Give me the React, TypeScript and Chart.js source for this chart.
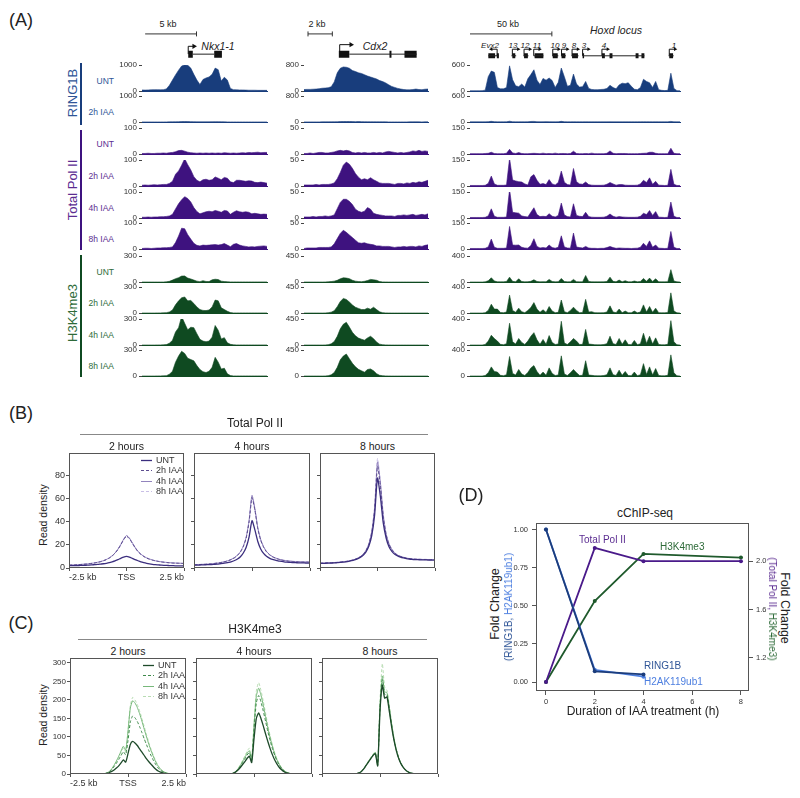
import React, { useEffect, useRef } from "react";
import { Chart, registerables } from "chart.js";

Chart.register(...registerables);
const FONT = "'Liberation Sans', Arial, Helvetica, sans-serif";
Chart.defaults.font.family = FONT;
Chart.defaults.color = "#333";

// ---------- colours ----------
const C_RING = "#183d7c";
const C_RING_TXT = "#2f5597";
const C_POL = "#3e127f";
const C_POL_TXT = "#5b2c91";
const C_K4 = "#0f4a21";
const C_K4_TXT = "#2e6b39";
const C_H2A = "#4d7fe0";

// ---------- Panel A: Nkx1-1 locus tracks ----------
const NKX_R_UNT = [40,35,40,45,50,50,45,50,80,220,420,620,800,960,1000,990,880,640,420,250,440,500,540,640,880,820,380,530,420,100,50,45,40,40,35,30,30,30,25,25,25,25];
const NKX_R_2H = [3,3,3,3,3,3,3,3,4,5,6,8,12,15,16,15,14,10,6,5,5,5,6,10,12,12,8,5,4,3,3,3,3,3,3,3,3,3,3,3,3,3];
const NKX_P_UNT = [2,2,3,2,2,3,3,4,3,5,6,9,13,14,11,7,5,4,3,4,3,4,3,4,3,4,3,5,4,3,4,3,4,5,4,6,5,6,7,5,6,6];
const NKX_P_2H = [3,4,3,4,5,4,5,6,6,10,18,45,58,80,105,82,62,36,22,16,24,26,22,24,35,30,24,33,30,16,13,22,22,20,18,20,19,14,13,15,13,11];
const NKX_P_4H = [3,3,4,3,4,4,5,5,6,8,14,35,55,70,82,75,62,40,25,16,20,24,26,24,29,26,22,29,27,14,22,28,24,22,24,22,16,18,16,14,15,14];
const NKX_P_8H = [2,3,3,2,3,4,4,5,5,6,8,25,50,80,78,55,38,22,14,12,15,14,15,16,17,15,17,21,15,9,18,21,15,12,10,8,9,8,10,11,12,10];
const NKX_K_UNT = [0,0,0,0,0,0,0,0,2,8,22,38,50,68,70,45,35,22,10,4,15,6,5,25,32,28,10,5,3,1,1,1,1,1,1,1,1,1,1,1,1,1];
const NKX_K_2H = [0,0,0,0,0,1,1,2,4,12,35,95,140,175,185,140,145,110,70,40,30,28,35,70,150,140,60,40,20,5,1,1,1,1,1,1,1,1,1,1,1,1];
const NKX_K_4H = [0,0,0,0,0,1,1,2,5,20,55,150,200,330,250,175,205,200,130,65,45,38,45,90,225,170,70,85,25,8,2,1,1,1,1,1,1,1,1,1,1,1];
const NKX_K_8H = [0,0,0,0,0,1,1,2,4,20,55,160,230,285,260,205,190,175,120,75,50,40,55,100,215,160,80,90,25,5,1,1,1,1,1,1,1,1,1,1,1,1];

// ---------- Panel A: Cdx2 locus tracks ----------
const CDX_R_UNT = [45,50,50,55,60,70,85,90,100,130,280,560,700,740,730,700,630,600,560,540,500,460,430,400,370,320,290,250,190,140,110,80,60,45,35,35,45,60,45,40,55,60];
const CDX_R_2H = [3,3,3,3,3,3,4,4,4,5,6,8,12,15,14,16,12,10,14,11,8,6,5,5,4,4,4,4,3,3,3,3,3,3,3,4,4,5,4,3,4,4];
const CDX_P_UNT = [1,1,2,1,2,3,3,2,2,3,4,6,7,6,7,6,3,2,3,2,3,2,2,3,2,3,2,4,5,4,3,2,3,2,3,4,6,5,7,5,6,5];
const CDX_P_2H = [2,2,2,2,3,2,3,3,3,4,6,14,26,40,46,42,34,24,17,12,14,12,16,12,9,6,5,5,5,4,3,5,5,4,6,5,7,6,8,7,9,11];
const CDX_P_4H = [2,2,2,3,2,3,3,4,3,4,6,18,30,36,36,32,26,17,13,11,13,20,17,9,7,6,5,4,4,4,3,5,5,6,5,6,7,5,6,7,6,8];
const CDX_P_8H = [1,2,2,2,2,3,3,3,3,4,10,20,30,36,32,27,22,17,12,11,12,10,9,8,6,6,5,5,5,4,3,4,4,5,4,5,5,4,6,5,7,8];
const CDX_K_UNT = [0,0,0,0,0,0,0,1,3,8,15,30,55,73,68,58,30,15,8,6,12,25,45,38,30,8,2,1,0,0,0,0,0,0,0,0,0,0,0,0,0,0];
const CDX_K_2H = [0,0,0,0,0,0,0,1,5,15,40,110,200,252,235,190,140,100,80,60,60,84,65,100,60,20,6,2,1,0,0,0,0,0,0,0,0,0,0,0,0,0];
const CDX_K_4H = [0,0,0,0,0,0,0,1,6,20,60,150,280,360,392,310,220,160,120,100,84,123,151,110,50,15,5,2,1,0,0,0,0,0,0,0,0,0,0,0,0,0];
const CDX_K_8H = [0,0,0,0,0,0,0,1,6,20,60,150,280,345,380,300,220,160,115,90,67,112,123,90,40,12,5,2,1,0,0,0,0,0,0,0,0,0,0,0,0,0];

// ---------- Panel A: Hoxd locus tracks ----------
const HOX_R_UNT = [5,5,5,5,8,20,330,460,430,80,50,50,80,580,260,120,100,160,90,280,380,490,250,150,290,250,300,240,80,200,530,330,110,130,390,160,90,100,220,60,35,30,30,35,40,60,130,80,50,140,180,170,190,110,40,30,80,270,220,190,80,220,30,15,10,15,410,60,8,5];
const HOX_R_2H = [3,3,3,3,3,3,8,15,8,3,3,3,4,18,6,3,3,4,3,5,12,14,6,4,5,8,5,4,3,5,15,6,3,3,5,3,3,3,4,3,3,3,3,3,3,3,4,3,3,3,3,3,3,3,3,3,4,5,4,4,3,4,3,3,3,3,14,4,3,3];
const HOX_P_UNT = [2,2,2,2,2,3,4,10,3,2,2,2,4,27,6,3,8,3,2,2,3,4,3,2,5,2,3,2,5,2,3,3,2,3,16,3,2,2,3,2,5,2,2,2,2,4,18,4,2,3,3,3,2,2,2,2,3,4,5,10,10,4,2,2,2,2,33,4,2,2];
const HOX_P_2H = [3,3,3,3,3,4,15,57,12,4,4,4,6,160,35,29,25,23,12,6,53,66,33,10,14,8,37,12,6,20,86,22,8,6,101,25,12,10,23,8,5,4,4,4,5,10,20,12,5,8,8,5,4,4,4,5,12,33,20,47,10,27,5,4,3,4,96,10,3,3];
const HOX_P_4H = [3,3,3,3,3,4,12,53,10,4,4,4,6,165,33,30,28,12,8,6,33,59,20,8,10,8,25,10,6,15,86,18,8,6,82,15,10,8,33,8,5,4,4,4,5,10,23,10,5,8,6,5,4,4,4,5,10,27,20,43,15,37,5,4,3,4,92,10,3,3];
const HOX_P_8H = [3,3,3,3,3,4,12,57,10,4,4,4,6,130,23,22,23,10,6,5,20,59,15,6,8,6,23,8,5,10,76,12,6,5,92,12,8,6,15,6,4,4,3,4,4,8,15,8,4,6,5,4,4,3,4,5,10,33,15,47,10,23,5,4,3,4,101,10,3,3];
const HOX_K_UNT = [0,0,0,0,0,2,20,65,15,3,2,2,8,75,10,3,50,8,2,5,10,35,8,2,5,3,40,8,2,5,55,8,2,3,40,5,2,3,100,8,3,2,2,2,3,8,75,10,3,30,3,20,3,2,15,3,8,55,10,60,8,50,3,2,2,5,190,15,2,0];
const HOX_K_2H = [0,0,0,0,0,5,40,135,60,60,8,5,15,275,40,10,75,20,5,40,85,160,60,10,50,8,100,30,5,10,200,20,5,40,90,40,5,8,210,15,20,5,3,3,5,15,110,15,5,60,5,30,5,3,30,3,15,125,15,100,10,75,5,3,3,8,310,30,3,0];
const HOX_K_4H = [0,0,0,0,0,8,60,150,100,60,10,5,20,335,50,15,100,40,8,60,135,190,80,10,85,10,145,40,8,15,365,30,8,50,100,60,8,10,240,15,10,5,3,3,8,20,135,20,8,100,10,80,8,5,70,5,20,180,25,135,15,110,8,3,3,10,375,50,3,0];
const HOX_K_8H = [0,0,0,0,0,8,50,140,70,60,10,5,20,300,40,15,100,30,8,55,125,160,70,10,60,10,125,40,8,15,310,30,8,50,100,50,8,10,235,15,10,5,3,3,8,20,125,20,8,90,10,70,8,5,60,5,20,190,25,140,15,115,8,3,3,10,325,50,3,0];

// track y-axis maxima (Nkx1-1, Cdx2, Hoxd)
const MAX_RING = [1000, 800, 600];
const MAX_POL = [100, 50, 150];
const MAX_K4 = [300, 450, 400];

// gene models (positions in track bins)
const NKX_BAR = [-0.3, 17.7];
const NKX_EXONS = [[14.8, 16.4], [23.9, 26.6]];
const NKX_INTRONS = [[16.4, 23.9]];
const NKX_TSS = [[14.8, 16.8]];
const CDX_BAR = [0, 8.6];
const CDX_EXONS = [[10.9, 14.6], [28.8, 29.5], [34.1, 38.4]];
const CDX_INTRONS = [[14.6, 38.4]];
const CDX_TSS = [[11.2, 15.2]];
const HOX_BAR = [-1.6, 26.6];
const HOX_EXONS = [[4.9, 7.2], [7.8, 8.5], [13.1, 14.1], [17.1, 18.4], [20.7, 23.7], [26.9, 28.6], [29.9, 31.2], [33.5, 35.5], [37.1, 37.6], [43.7, 44.7], [46.3, 47.3], [55.2, 56.2], [57.2, 58.2], [66.7, 68.0]];
const HOX_INTRONS = [[4.9, 8.5], [12.8, 14.4], [16.9, 18.6], [20.4, 23.7], [26.7, 28.8], [29.7, 31.4], [33.3, 35.7], [37.1, 58.2], [66.5, 68.2]];
const HOX_TSS = [[7.9, 5.9], [13.1, 15.1], [17.1, 19.1], [20.4, 22.4], [26.9, 28.9], [29.9, 31.9], [33.5, 35.5], [37.1, 39.1], [43.7, 45.7], [66.7, 68.7]];
const HOX_GENES = ["Evx2", "13", "12", "11", "10", "9", "8", "3", "4", "1"];

// ---------- Panel B: Total Pol II meta-profiles ----------
const B_LABELS = ["-2.5 kb", "TSS", "2.5 kb"];
const B_YTICKS = [0, 20, 40, 60, 80];
const B2_UNT = [2,2,2,2.1,2.2,2.3,2.4,2.5,2.7,2.9,3.1,3.4,3.7,4.1,4.6,5.3,6.1,7.2,8.4,9.5,10,9.5,8.4,7.3,6.3,5.4,4.7,4.1,3.6,3.2,2.9,2.7,2.5,2.3,2.2,2.1,2,1.9,1.9,1.8,1.8];
const B2_I2 = [2.5,2.6,2.7,2.8,3,3.2,3.4,3.7,4,4.4,4.9,5.5,6.3,7.3,8.6,10.4,12.8,16,20,24.5,27.5,25.5,21.5,17.5,14.2,11.8,10,8.6,7.6,6.8,6.2,5.7,5.3,5,4.7,4.5,4.3,4.2,4.1,4,3.9];
const B2_I4 = [2.6,2.7,2.8,2.9,3.1,3.3,3.5,3.8,4.1,4.5,5,5.6,6.4,7.4,8.8,10.6,13,16.3,20.4,25,28.2,26,22,17.9,14.5,12,10.2,8.8,7.8,7,6.3,5.8,5.4,5.1,4.8,4.6,4.4,4.3,4.2,4.1,4];
const B2_I8 = [2.5,2.6,2.7,2.8,3,3.2,3.4,3.7,4.1,4.5,5,5.6,6.4,7.4,8.7,10.5,12.9,16.2,20.2,24.8,27.9,25.8,21.8,17.7,14.4,11.9,10.1,8.7,7.7,6.9,6.3,5.8,5.4,5,4.8,4.6,4.4,4.2,4.1,4,3.9];
const B4_UNT = [2.5,2.5,2.6,2.7,2.8,2.9,3,3.2,3.4,3.7,4,4.4,4.9,5.6,6.5,7.8,9.8,13,18,27,41,33,23,16.5,12.6,10.2,8.6,7.5,6.8,6.2,5.8,5.4,5.1,4.9,4.7,4.6,4.5,4.4,4.4,4.3,4.3];
const B4_I2 = [2.8,2.9,3,3.1,3.2,3.4,3.6,3.9,4.2,4.6,5.1,5.7,6.5,7.5,8.9,10.9,13.8,18.5,26,40,61,50,34,24,18,14,11.5,9.8,8.6,7.7,7,6.5,6.1,5.8,5.6,5.4,5.3,5.2,5.1,5.1,5];
const B4_I4 = [2.9,3,3.1,3.2,3.3,3.5,3.7,4,4.3,4.7,5.2,5.8,6.6,7.7,9.1,11.2,14.2,19,26.8,41.5,63,51.5,35,24.7,18.5,14.4,11.8,10,8.8,7.9,7.2,6.7,6.3,6,5.8,5.6,5.5,5.4,5.3,5.3,5.2];
const B4_I8 = [2.8,2.9,3,3.1,3.2,3.4,3.6,3.9,4.2,4.6,5.1,5.7,6.5,7.6,9,11,14,18.8,26.5,41,62,51,34.5,24.3,18.2,14.2,11.6,9.9,8.7,7.8,7.1,6.6,6.2,5.9,5.7,5.5,5.4,5.3,5.2,5.2,5.1];
const B8_UNT = [4,4,4.1,4.2,4.3,4.4,4.6,4.8,5.1,5.4,5.8,6.3,7,7.9,9.2,11,14,19,28,46,78,62,39,26,18.5,14.5,12,10.5,9.4,8.7,8.2,7.8,7.5,7.3,7.2,7.1,7,7,6.9,6.9,6.9];
const B8_I2 = [4.2,4.2,4.3,4.4,4.5,4.6,4.8,5,5.3,5.6,6,6.6,7.3,8.3,9.7,11.7,15,20.5,30.5,50,88,71,44,28.5,20.5,15.8,12.8,11,9.9,9.1,8.5,8.1,7.8,7.6,7.5,7.4,7.3,7.3,7.2,7.2,7.2];
const B8_I4 = [4.2,4.3,4.4,4.5,4.6,4.7,4.9,5.1,5.4,5.7,6.1,6.7,7.4,8.4,9.8,11.9,15.3,21,31.5,52,92,74,46,29.5,21,16.2,13.1,11.2,10.1,9.3,8.7,8.2,7.9,7.7,7.6,7.5,7.4,7.4,7.3,7.3,7.3];
const B8_I8 = [4.3,4.3,4.4,4.5,4.6,4.8,5,5.2,5.5,5.8,6.2,6.8,7.5,8.5,9.9,12,15.5,21.3,32,53,95,75.5,47,30,21.3,16.4,13.3,11.4,10.2,9.4,8.8,8.3,8,7.8,7.7,7.6,7.5,7.5,7.4,7.4,7.4];

// ---------- Panel C: H3K4me3 meta-profiles ----------
const C_YTICKS = [0, 50, 100, 150, 200, 250, 300];
const C2_UNT = [0,0,0,0,0,0,0,0,0,0,0,0,0,0,0,1,2,4,7,11,16,22,30,38,32,55,80,88,84,77,68,59,50,41,33,26,19,13,8,5,3,1.5,0.5,0,0,0,0,0,0,0,0];
const C2_I2 = [0,0,0,0,0,0,0,0,0,0,0,0,0,0,0,1,3,6,12,20,29,39,50,60,52,90,140,157,152,142,128,112,95,79,63,49,36,25,16,10,6,3,1.5,0.5,0,0,0,0,0,0,0];
const C2_I4 = [0,0,0,0,0,0,0,0,0,0,0,0,0,0,0,1,3,7,14,24,35,48,62,75,64,115,178,198,192,180,163,143,121,100,80,62,46,32,21,13,8,4,2,1,0,0,0,0,0,0,0];
const C2_I8 = [0,0,0,0,0,0,0,0,0,0,0,0,0,0,0,1,3,7,13,22,33,45,58,70,60,118,185,207,200,188,171,150,128,106,85,66,49,35,23,14,8,4,2,1,0,0,0,0,0,0,0];
const C4_UNT = [0,0,0,0,0,0,0,0,0,0,0,0,0,0,0,0.5,2,5,10,17,25,33,42,48,31,95,150,165,150,130,108,87,68,51,37,26,17,11,6,3,1.5,0.5,0,0,0,0,0,0,0,0,0];
const C4_I2 = [0,0,0,0,0,0,0,0,0,0,0,0,0,0,0,0.5,2,6,12,20,30,40,51,58,38,120,192,212,195,170,142,114,89,67,49,34,23,14,8,4,2,1,0.5,0,0,0,0,0,0,0,0];
const C4_I4 = [0,0,0,0,0,0,0,0,0,0,0,0,0,0,0,0.5,2,6,13,22,33,44,56,63,40,130,210,232,213,186,155,124,97,73,53,37,25,15,9,5,2,1,0.5,0,0,0,0,0,0,0,0];
const C4_I8 = [0,0,0,0,0,0,0,0,0,0,0,0,0,0,0,0.5,2,7,14,24,36,48,61,70,42,138,224,247,226,197,164,131,102,77,56,39,26,16,9,5,2,1,0.5,0,0,0,0,0,0,0,0];
const C8_UNT = [0,0,0,0,0,0,0,0,0,0,0,0,0,0,0,1,3,7,14,23,32,41,50,55,22,170,240,205,208,170,128,92,64,43,28,18,11,6,3,1.5,0.5,0,0,0,0,0,0,0,0,0,0];
const C8_I2 = [0,0,0,0,0,0,0,0,0,0,0,0,0,0,0,1,3,7,14,23,33,42,51,57,23,178,255,215,215,177,133,95,66,44,29,18,11,6,3,1.5,0.5,0,0,0,0,0,0,0,0,0,0];
const C8_I4 = [0,0,0,0,0,0,0,0,0,0,0,0,0,0,0,1,3,7,15,24,34,43,52,58,24,185,265,222,220,181,136,97,67,45,29,19,11,6,3,1.5,0.5,0,0,0,0,0,0,0,0,0,0];
const C8_I8 = [0,0,0,0,0,0,0,0,0,0,0,0,0,0,0,1,3,8,15,25,35,45,54,60,25,200,298,235,226,185,139,99,68,46,30,19,11,6,3,1.5,0.5,0,0,0,0,0,0,0,0,0,0];

// ---------- Panel D: cChIP-seq fold change ----------
const D_TIME_LEFT = [0, 2, 4];
const D_TIME_RIGHT = [0, 2, 4, 8];
const D_RING1B = [1.0, 0.07, 0.05];
const D_H2AK = [1.0, 0.08, 0.035];
const D_POL2 = [1.0, 2.11, 2.0, 2.0];
const D_K4 = [1.0, 1.67, 2.06, 2.03];
const D_XTICKS = [0, 2, 4, 6, 8];
const D_YTICKS = [0, 0.25, 0.5, 0.75, 1.0];
const D_Y2TICKS = [1.2, 1.6, 2.0];

// ---------- plugins ----------
const framePlugin = {
  id: "frame",
  afterDraw(chart: any, _a: any, opts: any) {
    if (!opts || !opts.color) return;
    const { ctx, chartArea: ca } = chart;
    ctx.save();
    ctx.strokeStyle = opts.color;
    ctx.lineWidth = 1;
    const l = Math.round(ca.left) + 0.5, t = Math.round(ca.top) + 0.5;
    const r = Math.round(ca.right) - 0.5, b = Math.round(ca.bottom) - 0.5;
    ctx.strokeRect(l, t, r - l, b - t);
    ctx.restore();
  },
};
const miniLegend = {
  id: "miniLegend",
  afterDraw(chart: any, _a: any, opts: any) {
    if (!opts || !opts.items) return;
    const { ctx, chartArea: ca } = chart;
    ctx.save();
    opts.items.forEach((it: any, k: number) => {
      const y = Math.round(ca.top + opts.top + k * opts.step) + 0.5;
      const x0 = ca.right - opts.right;
      ctx.strokeStyle = it.color;
      ctx.lineWidth = it.width;
      ctx.setLineDash(it.dash);
      ctx.beginPath();
      ctx.moveTo(x0, y);
      ctx.lineTo(x0 + 11, y);
      ctx.stroke();
      ctx.setLineDash([]);
      ctx.fillStyle = "#333";
      ctx.font = `9px ${FONT}`;
      ctx.textBaseline = "middle";
      ctx.fillText(it.label, x0 + 15, y);
    });
    ctx.restore();
  },
};
// track scale labels ("0" and the maximum) drawn at the y scale's tick positions
const trackTicks = {
  id: "trackTicks",
  afterDraw(chart: any, _a: any, opts: any) {
    if (!opts || !opts.values) return;
    const { ctx, chartArea: ca, scales } = chart;
    ctx.save();
    ctx.fillStyle = "#333";
    ctx.font = `8px ${FONT}`;
    ctx.textAlign = "right";
    ctx.textBaseline = "middle";
    opts.values.forEach((v: number) => {
      const y = scales.y.getPixelForValue(v);
      ctx.fillText(String(v), ca.left - 5, y);
    });
    ctx.restore();
  },
};
Chart.register(framePlugin, miniLegend, trackTicks);

// ---------- helpers ----------
function ChartCanvas({ x, y, w, h, make }: any) {
  const ref = useRef<HTMLCanvasElement>(null);
  useEffect(() => {
    const chart = new Chart(ref.current as HTMLCanvasElement, make());
    return () => chart.destroy();
  }, []);
  return (
    <canvas
      ref={ref}
      width={w}
      height={h}
      style={{ position: "absolute", left: x, top: y, width: w, height: h }}
    />
  );
}

function T({ x, y, s = 9, c = "#222", i = false, r = 0, a = "c", children }: any) {
  const tx = a === "c" ? "-50%" : a === "r" ? "-100%" : "0%";
  return (
    <div
      style={{
        position: "absolute",
        left: x,
        top: y,
        transform: `translate(${tx}, -50%) rotate(${r}deg)`,
        fontSize: s,
        color: c,
        fontStyle: i ? "italic" : "normal",
        whiteSpace: "nowrap",
        lineHeight: 1,
      }}
    >
      {children}
    </div>
  );
}

const YW = 36;
const TP = 5;
const BP = 5;
const TRACK_H = 26;
const COLS = [
  { left: 142, width: 125 },
  { left: 304, width: 124 },
  { left: 470, width: 210 },
];
const BASELINES = [91, 122, 154, 186, 218, 249, 282, 313, 345, 376];

const TRACK_ROWS = [
  { name: "UNT", color: C_RING, txt: C_RING_TXT, max: MAX_RING, data: [NKX_R_UNT, CDX_R_UNT, HOX_R_UNT] },
  { name: "2h IAA", color: C_RING, txt: C_RING_TXT, max: MAX_RING, data: [NKX_R_2H, CDX_R_2H, HOX_R_2H] },
  { name: "UNT", color: C_POL, txt: C_POL_TXT, max: MAX_POL, data: [NKX_P_UNT, CDX_P_UNT, HOX_P_UNT] },
  { name: "2h IAA", color: C_POL, txt: C_POL_TXT, max: MAX_POL, data: [NKX_P_2H, CDX_P_2H, HOX_P_2H] },
  { name: "4h IAA", color: C_POL, txt: C_POL_TXT, max: MAX_POL, data: [NKX_P_4H, CDX_P_4H, HOX_P_4H] },
  { name: "8h IAA", color: C_POL, txt: C_POL_TXT, max: MAX_POL, data: [NKX_P_8H, CDX_P_8H, HOX_P_8H] },
  { name: "UNT", color: C_K4, txt: C_K4_TXT, max: MAX_K4, data: [NKX_K_UNT, CDX_K_UNT, HOX_K_UNT] },
  { name: "2h IAA", color: C_K4, txt: C_K4_TXT, max: MAX_K4, data: [NKX_K_2H, CDX_K_2H, HOX_K_2H] },
  { name: "4h IAA", color: C_K4, txt: C_K4_TXT, max: MAX_K4, data: [NKX_K_4H, CDX_K_4H, HOX_K_4H] },
  { name: "8h IAA", color: C_K4, txt: C_K4_TXT, max: MAX_K4, data: [NKX_K_8H, CDX_K_8H, HOX_K_8H] },
];

function trackConfig(values: number[], max: number, color: string) {
  return {
    type: "line",
    data: {
      labels: values.map((_, i) => i),
      datasets: [
        { data: values, borderColor: color, backgroundColor: color, borderWidth: 0.6, fill: "origin", pointRadius: 0, tension: 0 },
      ],
    },
    options: {
      animation: false,
      responsive: false,
      events: [],
      layout: { padding: { top: TP, bottom: BP, left: 0, right: 2 } },
      plugins: { legend: { display: false }, tooltip: { enabled: false }, trackTicks: { values: [0, max] } },
      scales: {
        x: {
          offset: false,
          ticks: { display: false },
          grid: { display: false },
          border: { display: true, color, width: 1 },
          afterFit: (s: any) => { s.height = 0; },
        },
        y: {
          min: 0,
          max,
          afterBuildTicks: (s: any) => { s.ticks = [{ value: 0 }, { value: max }]; },
          ticks: { display: false },
          grid: { drawOnChartArea: false, tickLength: 3, color: "#444" },
          border: { display: false },
          afterFit: (s: any) => { s.width = YW; },
        },
      },
    },
  };
}

const HEADER_TOP = 20;
const HEADER_H = 46;
const LANE_BAR = 34;

function headerConfig(n: number, bar: number[], exons: number[][], introns: number[][], tss: number[][], exonW: number, geneLane: number, tssLane: number, headR: number) {
  const segs = (list: number[][], y: number) => list.flatMap(([a, b]) => [{ x: a, y }, { x: b, y }, { x: b, y: null }]);
  const barTicks = [
    { x: bar[0], y: LANE_BAR - 3 }, { x: bar[0], y: LANE_BAR + 3 }, { x: bar[0], y: null },
    { x: bar[1], y: LANE_BAR - 3 }, { x: bar[1], y: LANE_BAR + 3 },
  ];
  const tssLines = tss.flatMap(([a, b]) => [{ x: a, y: geneLane }, { x: a, y: tssLane }, { x: b, y: tssLane }, { x: b, y: null }]);
  const heads = tss.map(([, b]) => ({ x: b, y: tssLane }));
  const rots = tss.map(([a, b]) => (b > a ? 90 : -90));
  const line = (data: any[], w: number, c: string) => ({ data, borderColor: c, backgroundColor: c, borderWidth: w, pointRadius: 0, spanGaps: false, clip: false, tension: 0 });
  return {
    type: "line",
    data: {
      datasets: [
        line(segs([bar], LANE_BAR), 1, "#333"),
        line(barTicks, 1, "#333"),
        line(segs(introns, geneLane), 1, "#222"),
        line(segs(exons, geneLane), exonW, "#111"),
        line(tssLines, 1, "#111"),
        { data: heads, showLine: false, pointStyle: "triangle", rotation: rots, pointRadius: headR, backgroundColor: "#111", borderWidth: 0, clip: false },
      ],
    },
    options: {
      animation: false,
      responsive: false,
      events: [],
      layout: { padding: 0 },
      plugins: { legend: { display: false }, tooltip: { enabled: false } },
      scales: {
        x: { type: "linear", min: 0, max: n - 1, display: false },
        y: { type: "linear", min: 0, max: HEADER_H, display: false },
      },
    },
  };
}

// profile panels (B, C)
const PY_W = 30;
const PTOP = 8;
const PX_H = 16;
function profileConfig(series: any[], ymax: number, yticks: number[], showLabels: boolean, legendItems: any, tickFont: number) {
  const n = series[0].data.length;
  return {
    type: "line",
    data: {
      labels: series[0].data.map((_: any, i: number) => i),
      datasets: series.map((s) => ({
        data: s.data,
        borderColor: s.color,
        borderWidth: s.width,
        borderDash: s.dash,
        pointRadius: 0,
        fill: false,
        tension: 0.2,
      })),
    },
    options: {
      animation: false,
      responsive: false,
      events: [],
      layout: { padding: { top: PTOP, right: 4, left: 0, bottom: 0 } },
      plugins: {
        legend: { display: false },
        tooltip: { enabled: false },
        frame: { color: "#555" },
        miniLegend: legendItems ? { items: legendItems, top: 7, step: 10.4, right: 43 } : {},
      },
      scales: {
        x: {
          offset: false,
          afterBuildTicks: (s: any) => { s.ticks = [0, (n - 1) / 2, n - 1].map((v) => ({ value: v })); },
          ticks: {
            display: showLabels,
            autoSkip: false,
            maxRotation: 0,
            align: "inner",
            padding: 1,
            font: { size: 9 },
            color: "#333",
            callback: (_v: any, i: number) => B_LABELS[i],
          },
          grid: { drawOnChartArea: false, tickLength: 3, color: "#555" },
          border: { display: false },
          afterFit: (s: any) => { s.height = PX_H; },
        },
        y: {
          min: 0,
          max: ymax,
          afterBuildTicks: (s: any) => { s.ticks = yticks.map((v) => ({ value: v })); },
          ticks: { display: showLabels, autoSkip: false, font: { size: tickFont }, color: "#333", padding: 1, callback: (v: any) => String(v) },
          grid: { drawOnChartArea: false, tickLength: 3, color: "#555" },
          border: { display: false },
          afterFit: (s: any) => { s.width = PY_W; },
        },
      },
    },
  };
}

const B_STYLE = [
  { label: "UNT", color: "#3b2e7e", width: 1.3, dash: [] },
  { label: "2h IAA", color: "#5c4d8f", width: 1, dash: [3, 2] },
  { label: "4h IAA", color: "#9284bd", width: 1, dash: [] },
  { label: "8h IAA", color: "#c9bfe6", width: 1, dash: [3, 2] },
];
const C_STYLE = [
  { label: "UNT", color: "#1e4a2a", width: 1.3, dash: [] },
  { label: "2h IAA", color: "#3f8a4b", width: 1, dash: [3, 2] },
  { label: "4h IAA", color: "#77b87a", width: 1, dash: [] },
  { label: "8h IAA", color: "#b8dcb3", width: 1, dash: [3, 2] },
];
const B_PANELS = [
  { title: "2 hours", left: 69, right: 184, data: [B2_UNT, B2_I2, B2_I4, B2_I8] },
  { title: "4 hours", left: 194, right: 310, data: [B4_UNT, B4_I2, B4_I4, B4_I8] },
  { title: "8 hours", left: 320, right: 435, data: [B8_UNT, B8_I2, B8_I4, B8_I8] },
];
const C_PANELS = [
  { title: "2 hours", left: 70, right: 186, data: [C2_UNT, C2_I2, C2_I4, C2_I8] },
  { title: "4 hours", left: 196, right: 312, data: [C4_UNT, C4_I2, C4_I4, C4_I8] },
  { title: "8 hours", left: 322, right: 438, data: [C8_UNT, C8_I2, C8_I4, C8_I8] },
];
const B_TOP = 453, B_BOTTOM = 568;
const C_TOP = 658, C_BOTTOM = 774;

function dConfig() {
  const pts = (xs: number[], ys: number[]) => xs.map((x, i) => ({ x, y: ys[i] }));
  const ds = (label: string, data: any[], color: string, axis: string) => ({
    label, data, borderColor: color, backgroundColor: color, borderWidth: 1.8, pointRadius: 2, pointBorderWidth: 0, yAxisID: axis, tension: 0,
  });
  return {
    type: "line",
    data: {
      datasets: [
        ds("RING1B", pts(D_TIME_LEFT, D_RING1B), "#1c3d7c", "y"),
        ds("H2AK119ub1", pts(D_TIME_LEFT, D_H2AK), C_H2A, "y"),
        ds("Total Pol II", pts(D_TIME_RIGHT, D_POL2), "#4a1a8a", "y2"),
        ds("H3K4me3", pts(D_TIME_RIGHT, D_K4), "#1f5a2c", "y2"),
      ],
    },
    options: {
      animation: false,
      responsive: false,
      events: [],
      layout: { padding: { top: 8, right: 0, left: 0, bottom: 0 } },
      plugins: { legend: { display: false }, tooltip: { enabled: false }, frame: { color: "#555" } },
      scales: {
        x: {
          type: "linear",
          min: -0.41,
          max: 8.33,
          afterBuildTicks: (s: any) => { s.ticks = D_XTICKS.map((v) => ({ value: v })); },
          ticks: { font: { size: 7.5 }, color: "#333", padding: 2, autoSkip: false, callback: (v: any) => String(v) },
          grid: { drawOnChartArea: false, tickLength: 4, color: "#555" },
          border: { display: false },
          afterFit: (s: any) => { s.height = 16; },
        },
        y: {
          position: "left",
          min: -0.059,
          max: 1.046,
          afterBuildTicks: (s: any) => { s.ticks = D_YTICKS.map((v) => ({ value: v })); },
          ticks: { font: { size: 7.5 }, color: "#333", padding: 4, autoSkip: false, callback: (v: any) => Number(v).toFixed(2) },
          grid: { drawOnChartArea: false, tickLength: 4, color: "#555" },
          border: { display: false },
          afterFit: (s: any) => { s.width = 32; },
        },
        y2: {
          position: "right",
          min: 0.926,
          max: 2.32,
          afterBuildTicks: (s: any) => { s.ticks = D_Y2TICKS.map((v) => ({ value: v })); },
          ticks: { font: { size: 7.5 }, color: "#333", padding: 3, autoSkip: false, callback: (v: any) => Number(v).toFixed(1) },
          grid: { drawOnChartArea: false, tickLength: 4, color: "#555" },
          border: { display: false },
          afterFit: (s: any) => { s.width = 26; },
        },
      },
    },
  };
}

const HOX_LABEL_X = [490, 513, 525, 537, 555, 564, 574, 584, 604, 674];

export default function App() {
  useEffect(() => {
    document.body.style.margin = "0";
  }, []);
  const cols = [
    { n: 42, bar: NKX_BAR, ex: NKX_EXONS, intr: NKX_INTRONS, tss: NKX_TSS, ew: 7, gl: 9.5, tl: 19, hr: 3 },
    { n: 42, bar: CDX_BAR, ex: CDX_EXONS, intr: CDX_INTRONS, tss: CDX_TSS, ew: 7, gl: 9.5, tl: 21, hr: 3 },
    { n: 70, bar: HOX_BAR, ex: HOX_EXONS, intr: HOX_INTRONS, tss: HOX_TSS, ew: 5, gl: 7.5, tl: 15.5, hr: 2.2 },
  ];
  return (
    <div style={{ position: "absolute", left: 0, top: 0, width: 800, height: 798, background: "#fff", fontFamily: FONT, color: "#222", overflow: "hidden" }}>
      {/* ---------------- Panel A ---------------- */}
      <T x={21} y={20} s={18}>(A)</T>
      <T x={168} y={24} s={9}>5 kb</T>
      <T x={317} y={24} s={9}>2 kb</T>
      <T x={508} y={24} s={9}>50 kb</T>
      <T x={218} y={46} s={10.5} i>Nkx1-1</T>
      <T x={375} y={46} s={10.5} i>Cdx2</T>
      <T x={616} y={30} s={10.5} i>Hoxd locus</T>
      {HOX_GENES.map((g, k) => (
        <T key={g} x={HOX_LABEL_X[k]} y={45.5} s={8} i>{g}</T>
      ))}
      {cols.map((c, k) => (
        <ChartCanvas
          key={"h" + k}
          x={COLS[k].left}
          y={HEADER_TOP}
          w={COLS[k].width}
          h={HEADER_H}
          make={() => headerConfig(c.n, c.bar, c.ex, c.intr, c.tss, c.ew, c.gl, c.tl, c.hr)}
        />
      ))}
      {/* group labels */}
      <div style={{ position: "absolute", left: 80, top: 63, width: 1.5, height: 62, background: C_RING }} />
      <div style={{ position: "absolute", left: 80, top: 130, width: 1.5, height: 120, background: C_POL }} />
      <div style={{ position: "absolute", left: 80, top: 255, width: 1.5, height: 122, background: C_K4 }} />
      <T x={72} y={93} s={13} c={C_RING_TXT} r={-90}>RING1B</T>
      <T x={72} y={190} s={13} c={C_POL_TXT} r={-90}>Total Pol II</T>
      <T x={72} y={313} s={13} c={C_K4_TXT} r={-90}>H3K4me3</T>
      {TRACK_ROWS.map((row, r) => (
        <T key={"rl" + r} x={114} y={BASELINES[r] - 10.5} s={8.5} c={row.txt} a="r">{row.name}</T>
      ))}
      {TRACK_ROWS.map((row, r) =>
        COLS.map((col, k) => (
          <ChartCanvas
            key={"t" + r + "_" + k}
            x={col.left - YW}
            y={BASELINES[r] - TRACK_H - TP}
            w={YW + col.width + 2}
            h={TP + TRACK_H + BP}
            make={() => trackConfig(row.data[k], row.max[k], row.color)}
          />
        ))
      )}

      {/* ---------------- Panel B ---------------- */}
      <T x={21} y={413} s={18}>(B)</T>
      <T x={255} y={423} s={12}>Total Pol II</T>
      <div style={{ position: "absolute", left: 80, top: 434, width: 348, height: 1, background: "#888" }} />
      <T x={43} y={515} s={10.5} r={-90}>Read density</T>
      {B_PANELS.map((p, k) => (
        <React.Fragment key={"b" + k}>
          <T x={(p.left + p.right) / 2} y={446} s={10.5}>{p.title}</T>
          <ChartCanvas
            x={p.left - PY_W}
            y={B_TOP - PTOP}
            w={PY_W + (p.right - p.left) + 4}
            h={PTOP + (B_BOTTOM - B_TOP) + PX_H}
            make={() =>
              profileConfig(
                p.data.map((d, j) => ({ ...B_STYLE[j], data: d })),
                99.7,
                B_YTICKS,
                k === 0,
                k === 0 ? B_STYLE : null,
                9
              )
            }
          />
        </React.Fragment>
      ))}

      {/* ---------------- Panel C ---------------- */}
      <T x={21} y={623} s={18}>(C)</T>
      <T x={255} y={629} s={12}>H3K4me3</T>
      <div style={{ position: "absolute", left: 78, top: 639, width: 349, height: 1, background: "#888" }} />
      <T x={43} y={715} s={10.5} r={-90}>Read density</T>
      {C_PANELS.map((p, k) => (
        <React.Fragment key={"c" + k}>
          <T x={(p.left + p.right) / 2} y={651} s={10.5}>{p.title}</T>
          <ChartCanvas
            x={p.left - PY_W}
            y={C_TOP - PTOP}
            w={PY_W + (p.right - p.left) + 4}
            h={PTOP + (C_BOTTOM - C_TOP) + PX_H}
            make={() =>
              profileConfig(
                p.data.map((d, j) => ({ ...C_STYLE[j], data: d })),
                313.5,
                C_YTICKS,
                k === 0,
                k === 0 ? C_STYLE : null,
                8
              )
            }
          />
        </React.Fragment>
      ))}

      {/* ---------------- Panel D ---------------- */}
      <T x={471} y={495} s={18}>(D)</T>
      <T x={645} y={513} s={12}>cChIP-seq</T>
      <ChartCanvas x={536 - 32} y={522 - 8} w={32 + 213 + 26} h={8 + 169 + 16} make={dConfig} />
      <T x={643} y={711} s={12}>Duration of IAA treatment (h)</T>
      <T x={495} y={604} s={12.5} r={-90}>Fold Change</T>
      <T x={509} y={607} s={10} r={-90}>
        <span style={{ color: C_RING_TXT }}>(RING1B, </span>
        <span style={{ color: C_H2A }}>H2AK119ub1)</span>
      </T>
      <T x={785} y={608} s={12.5} r={90}>Fold Change</T>
      <T x={772} y={609} s={10} r={90}>
        <span style={{ color: C_POL_TXT }}>(Total Pol II, </span>
        <span style={{ color: C_K4_TXT }}>H3K4me3)</span>
      </T>
      <T x={579} y={540} s={10} c={C_POL_TXT} a="l">Total Pol II</T>
      <T x={660} y={547} s={10} c={C_K4_TXT} a="l">H3K4me3</T>
      <T x={644} y={666} s={10} c={C_RING_TXT} a="l">RING1B</T>
      <T x={644} y={682} s={10} c={C_H2A} a="l">H2AK119ub1</T>
    </div>
  );
}
